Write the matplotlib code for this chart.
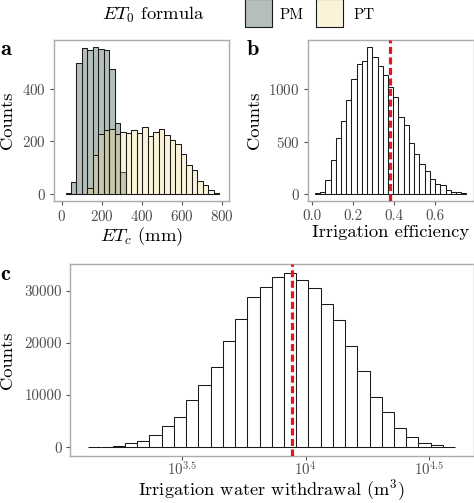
import numpy as np
import matplotlib
matplotlib.use("Agg")
import matplotlib.pyplot as plt
from matplotlib.patches import Rectangle

plt.rcParams["font.family"] = "cmr10"
plt.rcParams["mathtext.fontset"] = "cm"
plt.rcParams["axes.formatter.use_mathtext"] = True
plt.rcParams["axes.unicode_minus"] = False

# panel a: ET_c (mm), both formulas share the same bins
et_start, et_width = 19.0, 27.4
pm_counts = [3, 44, 500, 556, 547, 559, 553, 547, 475, 270, 82, 0, 0, 0,
             0, 0, 0, 0, 0, 0, 0, 0, 0, 0, 0, 0, 0, 0]
pt_counts = [0, 0, 0, 0, 22, 146, 229, 243, 246, 229, 237, 232, 243, 232,
             254, 220, 234, 247, 225, 206, 189, 151, 110, 89, 47, 34, 15, 4]
formulas = ["PM", "PT"]

# panel b: irrigation efficiency
eff_start, eff_width = 0.013, 0.0256
eff_counts = [5, 20, 130, 320, 530, 695, 900, 1100, 1240, 1275, 1405, 1310,
              1225, 1135, 1020, 930, 740, 655, 490, 380, 285, 220, 145, 95,
              80, 32, 20, 12, 6]
eff_mark = 0.381

# panel c: irrigation water withdrawal (m3), bins in log10 space
wd_logstart, wd_logwidth = 3.122, 0.0494
wd_counts = [60, 130, 250, 760, 1200, 2400, 4140, 5860, 8980, 11850, 15400,
             20450, 24590, 28850, 30700, 32600, 33440, 32040, 30570, 27390,
             24390, 19490, 14590, 9680, 6750, 3760, 1970, 830, 380, 130]
wd_mark = 10 ** 3.944

PM_FC = (8/255, 45/255, 25/255, 0.3)
PT_FC = (245/255, 218/255, 132/255, 0.3)
EDGE = "#1a1a1a"
TITLE_FS, TICK_FS = 13.4, 10.8

W, H = 474, 503
fig = plt.figure(figsize=(W/100, H/100), dpi=100)

def px_axes(l, t, r, b):
    return fig.add_axes([l/W, 1 - b/H, (r - l)/W, (b - t)/H])

def style(ax):
    for s in ax.spines.values():
        s.set_color("#ababab"); s.set_linewidth(1.0)
    ax.tick_params(length=3.2, width=0.8, color="#555555", labelcolor="#4d4d4d",
                   labelsize=TICK_FS, pad=2.5)

def vline(ax, x):
    ax.axvline(x, color="#e8141c", lw=2.3, dashes=(2.2, 1.1), zorder=5)

# --- a
ax = px_axes(54.3, 40, 229, 201)
edges = et_start + et_width * np.arange(len(pm_counts) + 1)
mids = edges[:-1] + et_width / 2
ax.hist(mids, bins=edges, weights=pm_counts, facecolor=PM_FC, edgecolor=EDGE, lw=0.75)
ax.hist(mids, bins=edges, weights=pt_counts, facecolor=PT_FC, edgecolor=EDGE, lw=0.75)
ax.set_xlim(-37, 836); ax.set_ylim(-28, 587)
ax.set_xticks([0, 200, 400, 600, 800]); ax.set_yticks([0, 200, 400])
style(ax)
ax.set_xlabel("$ET_c$ (mm)", fontsize=TITLE_FS)
ax.set_ylabel("Counts", fontsize=TITLE_FS)
ax.xaxis.set_label_coords(0.5, -0.15)
ax.yaxis.set_label_coords(-0.225, 0.5)

# --- b
ax = px_axes(307.7, 40, 473.5, 201)
edges = eff_start + eff_width * np.arange(len(eff_counts) + 1)
ax.hist(edges[:-1] + eff_width/2, bins=edges, weights=eff_counts,
        facecolor="white", edgecolor=EDGE, lw=0.75)
vline(ax, eff_mark)
ax.set_xlim(-0.022, 0.79); ax.set_ylim(-70, 1475)
ax.set_xticks([0.0, 0.2, 0.4, 0.6]); ax.set_yticks([0, 500, 1000])
ax.set_xticklabels(["0.0", "0.2", "0.4", "0.6"])
style(ax)
ax.set_xlabel("Irrigation efficiency", fontsize=TITLE_FS)
ax.set_ylabel("Counts", fontsize=TITLE_FS)
ax.xaxis.set_label_coords(0.5, -0.15)
ax.yaxis.set_label_coords(-0.275, 0.5)

# --- c
ax = px_axes(70, 264, 473.5, 456)
logedges = wd_logstart + wd_logwidth * np.arange(len(wd_counts) + 1)
edges = 10 ** logedges
ax.hist(10 ** (logedges[:-1] + wd_logwidth/2), bins=edges, weights=wd_counts,
        facecolor="white", edgecolor=EDGE, lw=0.75)
vline(ax, wd_mark)
ax.set_xscale("log")
ax.set_xlim(10 ** 3.048, 10 ** 4.678); ax.set_ylim(-1672, 35112)
ax.set_xticks([10 ** 3.5, 10 ** 4, 10 ** 4.5])
ax.set_xticklabels(["$10^{3.5}$", "$10^{4}$", "$10^{4.5}$"])
ax.xaxis.set_minor_locator(matplotlib.ticker.NullLocator())
ax.set_yticks([0, 10000, 20000, 30000])
ax.set_yticklabels(["0", "10000", "20000", "30000"])
style(ax)
ax.tick_params(axis="x", pad=0.5)
ax.set_xlabel("Irrigation water withdrawal (m$^3$)", fontsize=13.2)
ax.set_ylabel("Counts", fontsize=TITLE_FS)
ax.xaxis.set_label_coords(0.5, -0.112)
ax.yaxis.set_label_coords(-0.136, 0.5)

# panel letters
for lab, x, y in [("a", 0, 55), ("b", 247, 55), ("c", 0, 280)]:
    fig.text(x/W, 1 - y/H, lab, family="cmb10", fontsize=16, va="baseline")

# legend
fig.text(153.5/W, 1 - 15/H, "$ET_0$ formula", fontsize=TITLE_FS, ha="center", va="center")
for name, fc, kx, tx in [(formulas[0], PM_FC, 245, 280), (formulas[1], PT_FC, 316, 354)]:
    fig.add_artist(Rectangle((kx/W, 1 - 27/H), 27/W, 28/H, transform=fig.transFigure,
                             facecolor=fc, edgecolor=EDGE, lw=0.8))
    fig.text(tx/W, 1 - 15/H, name, fontsize=TICK_FS, va="center")

fig.savefig("out.png", dpi=100)
